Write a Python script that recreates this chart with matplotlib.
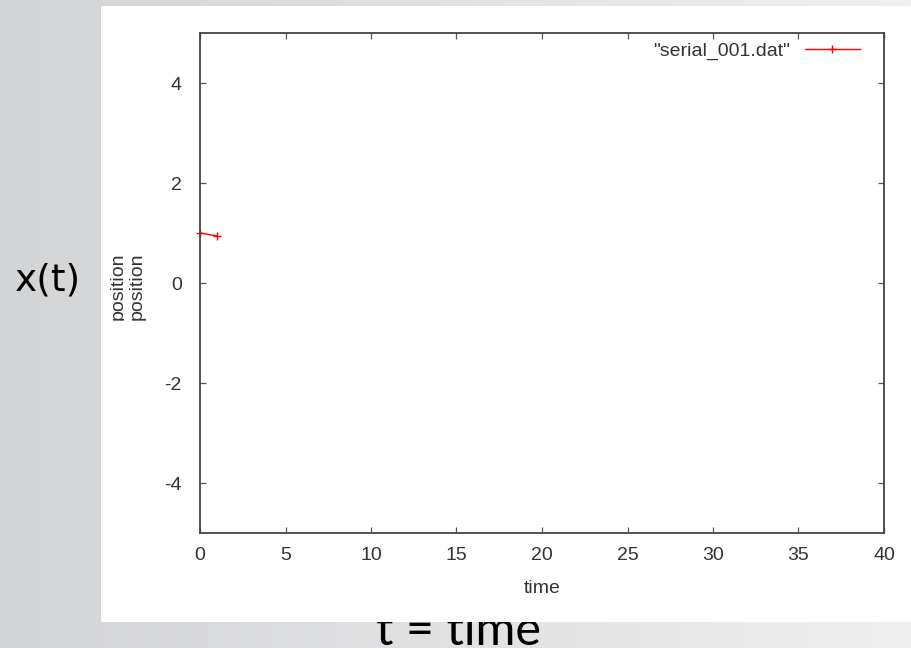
import numpy as np
import matplotlib
matplotlib.use('Agg')
import matplotlib.pyplot as plt
from matplotlib.patches import Rectangle
from matplotlib.colors import LinearSegmentedColormap

# datos de serial_001.dat
tiempo = [0, 1]
posicion = [1.0, 0.94]

xticks = [0, 5, 10, 15, 20, 25, 30, 35, 40]
yticks = [-4, -2, 0, 2, 4]
etiqueta_serie = '"serial_001.dat"'

plt.rcParams['font.family'] = ['Liberation Sans', 'DejaVu Sans']
plt.rcParams['axes.unicode_minus'] = False

W, H = 911, 648
fig = plt.figure(figsize=(W / 100, H / 100), dpi=100)

# fondo gris en degradado
fondo = fig.add_axes([0, 0, 1, 1], zorder=-3)
cmap = LinearSegmentedColormap.from_list('fondo', ['#d3d4d6', '#efefef'])
fondo.imshow(np.linspace(0, 1, 256).reshape(1, -1), aspect='auto', cmap=cmap, extent=[0, 1, 0, 1])
fondo.axis('off')

# titulo inferior, tapado en parte por el recuadro blanco
fig.text(458 / W, 1 - 645 / H, 't = time', fontsize=35, family=['Lato', 'DejaVu Sans'],
         ha='center', va='baseline', color='black', zorder=-2)
fig.add_artist(Rectangle((101 / W, 1 - 622 / H), 810 / W, 616 / H, transform=fig.transFigure,
                         facecolor='white', edgecolor='none', zorder=-1))

# etiqueta duplicada a la izquierda, recortada
fig.text(118.5 / W, 1 - 286 / H, 'position', rotation=90, fontsize=14,
         ha='center', va='center', color='#333', zorder=-0.8)
fig.add_artist(Rectangle((123.5 / W, 1 - 330 / H), 4 / W, 90 / H, transform=fig.transFigure,
                         facecolor='white', edgecolor='none', zorder=-0.5))

fig.text(47.5 / W, 1 - 290 / H, 'x(t)', fontsize=27, family='DejaVu Sans',
         ha='center', va='baseline', color='black', zorder=3)

ax = fig.add_axes([200 / W, 1 - 533 / H, 684 / W, 500 / H])
ax.plot(tiempo, posicion, color='red', lw=1, marker='+', ms=6, mew=1,
        clip_on=False, label=etiqueta_serie)

ax.set_xlim(0, 40)
ax.set_ylim(-5, 5)
ax.set_xticks(xticks)
ax.set_yticks(yticks)
ax.tick_params(direction='in', length=4, width=0.9, color='#555', labelcolor='#333',
               labelsize=14, top=True, right=True)
ax.tick_params(axis='y', pad=13)
ax.tick_params(axis='x', pad=10)
for s in ax.spines.values():
    s.set_linewidth(1.3)
    s.set_color('#444')

ax.set_xlabel('time', fontsize=14, color='#333')
ax.xaxis.set_label_coords(0.5, (533 - 580) / 500)
ax.set_ylabel('position', fontsize=14, color='#333')
ax.yaxis.set_label_coords((146 - 200) / 684, 0.494)

ax.legend(loc='upper right', bbox_to_anchor=(0.965, 0.982), frameon=False, fontsize=14,
          markerfirst=False, handlelength=2.85, handletextpad=0.75,
          borderpad=0, borderaxespad=0, labelcolor='#333')

fig.savefig('out.png', dpi=100)
